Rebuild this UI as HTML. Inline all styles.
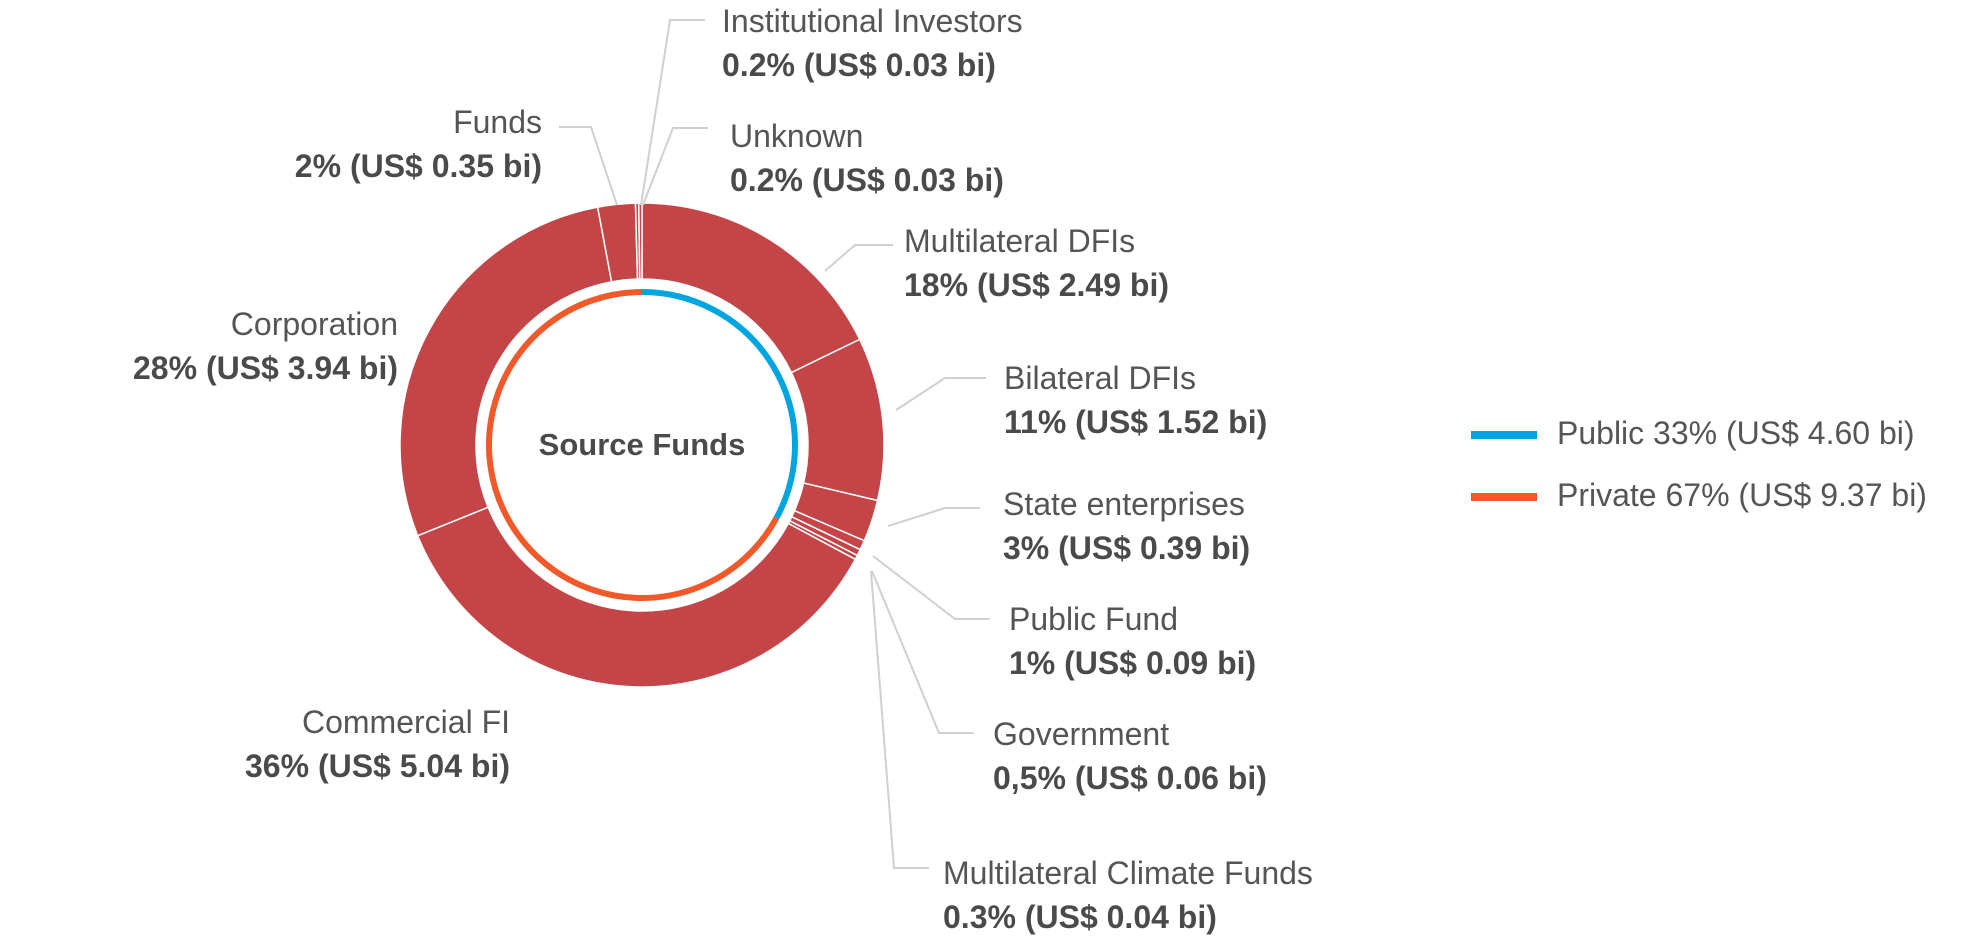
<!DOCTYPE html>
<html><head><meta charset="utf-8"><style>
html,body{margin:0;padding:0;background:#fff;}
svg{display:block;font-family:"Liberation Sans",sans-serif;}
.lt{font-size:32px;fill:#555;}
.bd{font-size:32px;font-weight:bold;fill:#4a4a4a;}
.ld{stroke:#d0d0d0;stroke-width:2;fill:none;}
</style></head><body>
<svg id="chart" width="1961" height="941" viewBox="0 0 1961 941" xmlns="http://www.w3.org/2000/svg">
<g id="slices"></g>
<g id="ring"></g>
<text x="642" y="455" text-anchor="middle" class="bd" style="font-size:31px">Source Funds</text>
<g id="labels"></g>
<g>
<line x1="1471" y1="435" x2="1537" y2="435" stroke="#00a5e0" stroke-width="8"/>
<text x="1557" y="444" class="lt">Public 33% (US$ 4.60 bi)</text>
<line x1="1471" y1="497" x2="1537" y2="497" stroke="#f05a2b" stroke-width="8"/>
<text x="1557" y="506" class="lt">Private 67% (US$ 9.37 bi)</text>
</g>
</svg>
<script>
const categories = ["Multilateral DFIs","Bilateral DFIs","State enterprises","Public Fund","Government","Multilateral Climate Funds","Commercial FI","Corporation","Funds","Institutional Investors","Unknown"];
const values = [2.49,1.52,0.39,0.09,0.06,0.04,5.04,3.94,0.35,0.03,0.03];
const valueLabels = ["18% (US$ 2.49 bi)","11% (US$ 1.52 bi)","3% (US$ 0.39 bi)","1% (US$ 0.09 bi)","0,5% (US$ 0.06 bi)","0.3% (US$ 0.04 bi)","36% (US$ 5.04 bi)","28% (US$ 3.94 bi)","2% (US$ 0.35 bi)","0.2% (US$ 0.03 bi)","0.2% (US$ 0.03 bi)"];
const groupNames = ["Public","Private"];
const groupValues = [4.60, 9.37];

const NS="http://www.w3.org/2000/svg";
const cx=642, cy=445, R=242, r=166, ringR=153;
// label layout: [textX, baseline1, anchor, leader points or null]
const layout = [
 [904,252,"start",[[825,271],[855,245],[893,245]]],
 [1004,389,"start",[[896,410],[945,378],[986,378]]],
 [1003,515,"start",[[888,526],[945,508],[980,508]]],
 [1009,630,"start",[[873,556],[955,619],[990,619]]],
 [993,745,"start",[[872,571],[939,733],[974,733]]],
 [943,884,"start",[[871,571],[894,868],[929,868]]],
 [510,733,"end",null],
 [398,335,"end",null],
 [542,133,"end",[[617,205],[591,127],[559,127]]],
 [722,32,"start",[[641,205],[670,20],[705,20]]],
 [730,147,"start",[[643,205],[673,128],[708,128]]]
];
const total = values.reduce((a,b)=>a+b,0);
function pt(rad,a){return [cx+rad*Math.sin(a), cy-rad*Math.cos(a)];}
function arcPath(a0,a1,ro,ri){
  const large=(a1-a0)>Math.PI?1:0;
  const p0=pt(ro,a0),p1=pt(ro,a1),p2=pt(ri,a1),p3=pt(ri,a0);
  return `M${p0[0]},${p0[1]}A${ro},${ro} 0 ${large} 1 ${p1[0]},${p1[1]}L${p2[0]},${p2[1]}A${ri},${ri} 0 ${large} 0 ${p3[0]},${p3[1]}Z`;
}
const sg=document.getElementById('slices');
let a=0;
values.forEach((v,i)=>{
  const a1=a+v/total*2*Math.PI;
  const p=document.createElementNS(NS,'path');
  p.setAttribute('d',arcPath(a,a1,R,r));
  p.setAttribute('fill','#c44548');
  p.setAttribute('stroke','#fff');
  p.setAttribute('stroke-width','1.5');
  
  
  sg.appendChild(p);
  a=a1;
});
const rg=document.getElementById('ring');
const gt=groupValues[0]+groupValues[1];
const colors=["#00a5e0","#f05a2b"];
let b=0;
groupValues.forEach((v,i)=>{
  const b1=b+v/gt*2*Math.PI;
  const p0=pt(ringR,b),p1=pt(ringR,b1);
  const large=(b1-b)>Math.PI?1:0;
  const p=document.createElementNS(NS,'path');
  p.setAttribute('d',`M${p0[0]},${p0[1]}A${ringR},${ringR} 0 ${large} 1 ${p1[0]},${p1[1]}`);
  p.setAttribute('fill','none');
  p.setAttribute('stroke',colors[i]);
  p.setAttribute('stroke-width','6');
  
  
  rg.appendChild(p);
  b=b1;
});
const lg=document.getElementById('labels');
categories.forEach((c,i)=>{
  const L=layout[i];
  const key=c.toLowerCase().replace(/\s+/g,'-');
  if(L[3]){
    const pl=document.createElementNS(NS,'polyline');
    pl.setAttribute('points',L[3].map(q=>q.join(',')).join(' '));
    pl.setAttribute('class','ld');
    
    
    lg.appendChild(pl);
  }
  const t1=document.createElementNS(NS,'text');
  t1.setAttribute('x',L[0]);t1.setAttribute('y',L[1]);
  t1.setAttribute('text-anchor',L[2]);t1.setAttribute('class','lt');
  t1.textContent=c;
  
  
  lg.appendChild(t1);
  const t2=document.createElementNS(NS,'text');
  t2.setAttribute('x',L[0]);t2.setAttribute('y',L[1]+44);
  t2.setAttribute('text-anchor',L[2]);t2.setAttribute('class','bd');
  t2.textContent=valueLabels[i];
  
  
  lg.appendChild(t2);
});
</script>
</body></html>
